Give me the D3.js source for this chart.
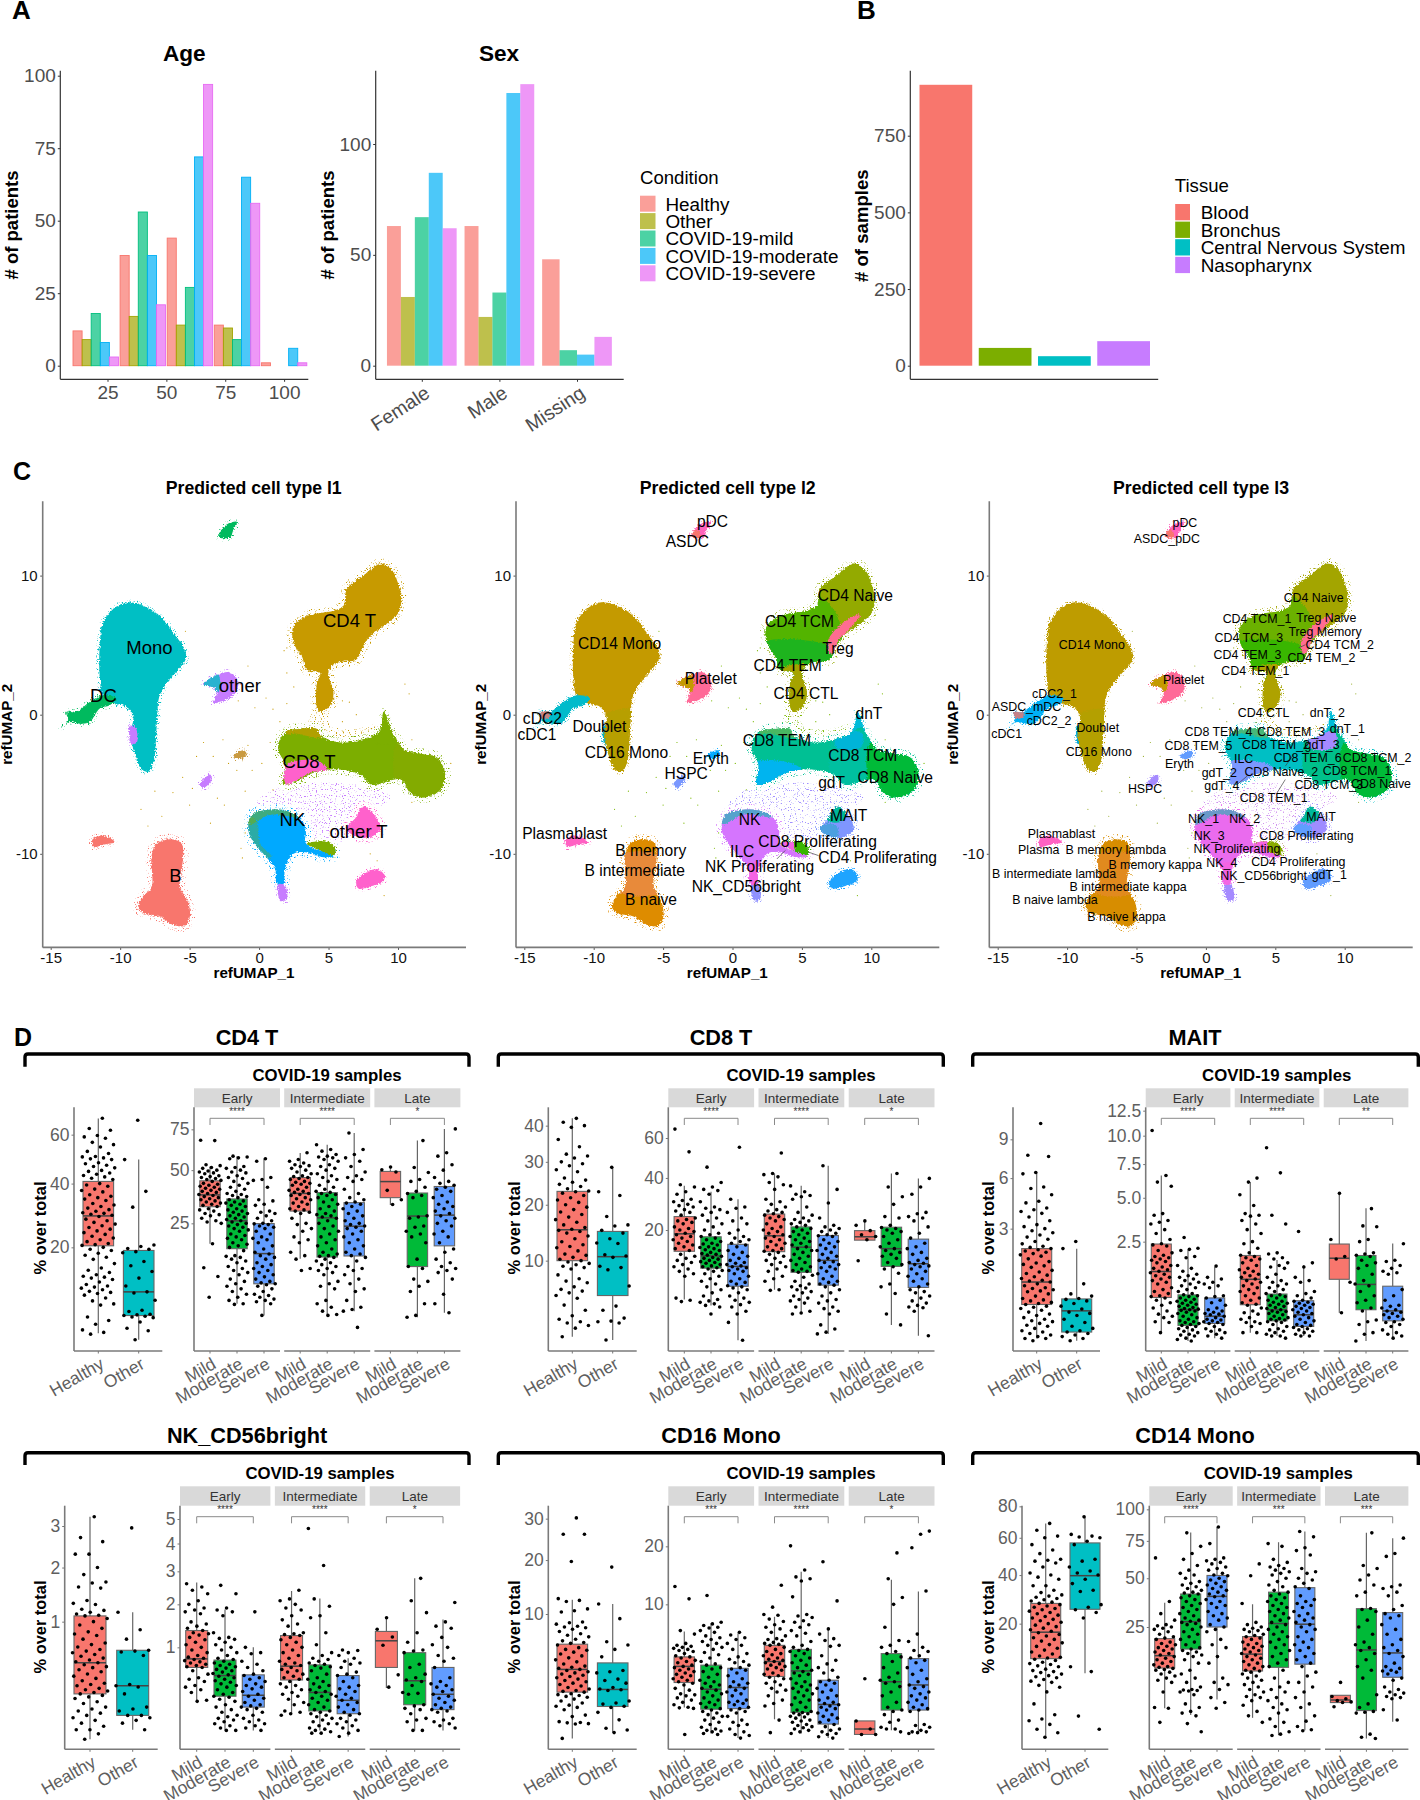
<!DOCTYPE html>
<html><head><meta charset="utf-8">
<script src="https://cdn.jsdelivr.net/npm/d3@7"></script>
<style>html,body{margin:0;padding:0;background:#fff}svg{display:block}text{font-family:"Liberation Sans",Arial,sans-serif}</style>
</head><body><div id="c"></div>
<script>
// ---------- Panel A / B data ----------
const conditions=["Healthy","Other","COVID-19-mild","COVID-19-moderate","COVID-19-severe"];
const conditionColors=["#F8766D","#A3A500","#00BF7D","#00B0F6","#E76BF3"];
const ageBins=[20,40,60,80,100];
const ageHealthy=[12,38,44,14,1];
const ageOther=[9,17,14,13,0];
const ageMild=[18,53,27,9,0];
const ageModerate=[8,38,72,65,6];
const ageSevere=[3,21,97,56,1];
const sexCats=["Female","Male","Missing"];
const sexFemale=[63,31,67,87,62];
const sexMale=[63,22,33,123,127];
const sexMissing=[48,null,7,5,13];
const tissues=["Blood","Bronchus","Central Nervous System","Nasopharynx"];
const tissueValues=[916,58,31,80];
const tissueColors=["#F8766D","#7CAE00","#00BFC4","#C77CFF"];

// ---------- UMAP cluster outlines (refUMAP_1, refUMAP_2) ----------
const monoOutline=[[-9.42,8.08],[-8.1,7.72],[-6.9,6.87],[-6.18,5.9],[-5.34,4.68],[-5.29,3.96],[-5.94,3.1],[-6.66,2.26],[-7.19,1.29],[-7.33,-.17],[-7.43,-1.87],[-7.57,-3.33],[-7.98,-4.1],[-8.46,-3.93],[-8.94,-2.84],[-9.25,-1.38],[-9.06,-.17],[-9.54,.56],[-10.38,.8],[-11.2,1.29],[-11.47,2.74],[-11.47,4.93],[-11.23,6.63],[-10.5,7.6]];
const dcOutline=[[-14.23,-.9],[-13.75,-.41],[-13.87,.19],[-13.15,.19],[-12.2,.92],[-11.2,1.4],[-10.26,1.17],[-10.75,.68],[-11.47,.44],[-12.19,-.53],[-12.9,-.66],[-13.63,-.53]];
const doubletOutline=[[-9.3,-.8],[-8.9,-.9],[-8.8,-2],[-9.2,-2.1],[-9.35,-1.4]];
const cd4Outline=[[8.73,10.87],[9.57,10.39],[10.05,9.3],[10.24,8.33],[10.05,7.35],[8.97,6.38],[8,5.66],[7.4,4.8],[7,3.96],[5.6,3.71],[5,3.1],[5.36,1.53],[5.12,.68],[4.4,.19],[4.16,.56],[4.16,2.26],[4.4,3],[3.44,3.23],[3.08,4.2],[2.48,5.17],[2.48,6.38],[3.44,7.1],[5.36,7.48],[6.08,7.84],[6.32,9.05],[7.52,10.02]];
const cd8Outline=[[2.96,-1.02],[4.16,-1.02],[4.4,-1.5],[5.84,-2],[7.52,-1.75],[8.49,-1.38],[9.2,-.9],[9.8,-1.63],[10.4,-2.48],[11.85,-2.84],[12.8,-3.08],[13.4,-4.3],[13.05,-5.39],[11.85,-5.95],[10.9,-5.63],[10.2,-4.66],[8.1,-5.03],[7.28,-4.3],[5.36,-3.93],[3.92,-4.17],[2.48,-4.9],[1.75,-5.02],[1.87,-3.57],[1.39,-2.6],[1.51,-1.75],[2.1,-1.14]];
const spikeOutline=[[8.97,.25],[9.45,-.9],[9.6,-2],[8.3,-2],[8.8,-.8]];
const nkOutline=[[.55,-6.85],[1.75,-6.85],[2.96,-7.45],[3.37,-8.42],[3.32,-9.15],[3.92,-9.64],[5,-9.76],[5.48,-9.64],[5.36,-10.17],[4.64,-10.24],[3.32,-9.88],[2.48,-10],[1.87,-11.09],[1.75,-12.18],[1.27,-12.18],[1.15,-11.09],[.31,-10],[-.41,-9.15],[-.77,-8.3],[-.53,-7.2]];
const tailOutline=[[3.44,-9.27],[5,-9.15],[5.48,-9.64],[5.43,-10.07],[4.4,-9.76]];
const nkEndOutline=[[1.39,-12.18],[1.87,-12.3],[1.99,-13.3],[1.51,-13.3]];
const otherTOutline=[[7.52,-6.6],[8.49,-7.45],[8.73,-8.2],[8,-8.8],[6.8,-8.67],[6.3,-8.2],[6.92,-7.45]];
const lowerOutline=[[8.49,-11.1],[8.97,-11.46],[8.97,-11.95],[8,-12.35],[7.16,-12.5],[7,-11.95],[7.52,-11.46]];
const bOutline=[[-6.42,-8.96],[-5.58,-9.27],[-5.5,-10.6],[-5.7,-12.3],[-5.1,-13.5],[-4.98,-14.5],[-5.34,-15.17],[-6.18,-15.1],[-7.14,-14.5],[-8.34,-14.25],[-8.7,-13.76],[-8.34,-13.03],[-7.74,-12.43],[-7.74,-10.12],[-7.38,-9.27]];
const plasmaOutline=[[-11.95,-8.9],[-11.2,-8.7],[-10.38,-9.15],[-11.2,-9.34],[-11.95,-9.5]];
const pdcOutline=[[-1.6,13.86],[-1.85,13.3],[-2.1,12.74],[-2.93,12.8],[-2.33,13.67]];
const plateOutline=[[-4,2.2],[-2.9,2.9],[-2.1,3.03],[-1.5,2.26],[-1.85,1.4],[-3.3,.85],[-3.05,1.53],[-3.2,1.9]];
const hspcOutline=[[-3.53,-4.3],[-3.41,-4.66],[-4.01,-5.27],[-4.25,-5.02]];
const erythOutline=[[-1.13,-2.55],[-.89,-2.84],[-1.49,-3.2],[-1.85,-2.96]];
const outlines={mono:monoOutline,dc:dcOutline,doublet:doubletOutline,cd4:cd4Outline,cd8:cd8Outline,spike:spikeOutline,nk:nkOutline,tail:tailOutline,nkEnd:nkEndOutline,otherT:otherTOutline,lower:lowerOutline,b:bOutline,plasma:plasmaOutline,pdc:pdcOutline,plate:plateOutline,hspc:hspcOutline,eryth:erythOutline};
const subRegions={
 monoStem:[[-6.5,.2],[-9.6,-.3],[-9.8,-5],[-6.5,-5]],
 cd4Tcm:[[1.5,8.5],[6.3,8.5],[7.8,6.4],[7.4,3],[1.5,3]],
 cd4Tem:[[2,5.1],[7.4,4.7],[7.4,3],[2,3]],
 cd4Stem:[[3.5,3.25],[6.5,3.25],[6.5,-.5],[3.5,-.5]],
 treg:[[6.85,5.2],[7.4,6.1],[8.5,6.95],[9.2,7.2],[8.4,6.1],[7.6,5.3],[7.4,4.5],[7,4.4]],
 cd8Right:[[10,-2],[14,-2],[14,-7],[10.3,-7],[9.7,-4.5]],
 cd8Mid:[[7.5,-1],[10.5,-1.5],[10.5,-6],[7.5,-6]],
 cd8Blue:[[1.4,-3.5],[4.3,-3.5],[5,-4],[3.5,-4.5],[2,-5.4],[1.4,-5.4]],
 cd8Pink:[[1.99,-5],[1.75,-4.3],[1.99,-3.57],[4.16,-3.3],[4.9,-3.93],[3.68,-4.17],[2.48,-4.85]],
 cd8Top:[[7.5,-1.4],[9.3,-1.3],[9.3,-2.3],[7.5,-2.4]],
 cd8TopL:[[2,-.7],[4.7,-.7],[4.5,-1.6],[2.6,-1.35],[2,-1.4]],
 nkBottom:[[.8,-10.8],[2.4,-10.8],[2.4,-12.4],[.8,-12.4]],
 nkFringe:[[-1,-6.3],[3,-6.3],[3.1,-7.3],[.8,-7.2],[-.6,-7.9],[-1,-7.9]],
 nkLeft:[[-1,-7.4],[-.2,-7.6],[.1,-9.3],[.9,-10.2],[.2,-10.4],[-1,-9]],
 tailStart:[[3.2,-9],[4.3,-9],[4.3,-10.4],[3.2,-10.4]],
 maitTop:[[6.8,-6],[8,-6],[8,-7.6],[6.8,-7.6]],
 maitLow:[[6,-8],[7.5,-8],[7.5,-9],[6,-9]],
 bMid:[[-8.2,-10.2],[-5,-10.2],[-5,-12.7],[-8.2,-12.7]],
 plateLeft:[[-4.2,3],[-3,3],[-2.9,1.7],[-4.2,1.7]],
 pdcLeft:[[-3.2,13.2],[-2.4,13.2],[-2.4,12.4],[-3.2,12.4]],
 dcTip:[[-14,.4],[-13.2,.4],[-13.2,-.2],[-14,-.2]]
};
const hazeBetween=[[1.5,-5.2],[8,-5.2],[9.5,-6],[8,-7],[6.2,-9],[4,-9],[3.5,-7],[1,-6.8],[-.3,-6.5]];
const hazeGap=[[4.1,.9],[5.3,.9],[5,-.6],[6.5,-1.1],[8.7,-.7],[8.7,-1.5],[6,-1.9],[4.2,-1.3],[3.6,-1.1]];
const strayU=[-5.5,-4.5,-4,-3.3,-2.6,-2.2,-1.6,-.8,-.5,-4.8,-3,-2.5,-1,.2,.8,1,-6.2,-7.5,-8.5,-7,-8,-5,-3.5,-1,-1.2,-1.3,.5,1,1.5,2,2.5,2,1.8,2,9,8.5,8,10.5,10.8,6.5,11,13.8,11,-5.3,-.3,-1.5,-.8,6,7,6];
const strayV=[-4.5,-3,-2,-3,-1.8,-3.5,-4,-2.2,-4,-5.3,-6,-6.5,-5.5,-3.5,-2,-5.4,-5.6,-5.5,-6.8,-7.3,-8,-6.5,-7.8,-8.5,-10.3,-9.6,1.2,.4,-.5,.8,2,3,4.6,4.8,-13,-10.5,-10,2.2,1.5,.9,-6.3,-3.5,-1.8,6,.5,1,3.5,-.5,0,1];

const l1Colors={mono:"#00BFC4",dc:"#00BA5E",doublet:"#C77CFF",cd4:"#C79A00",cd8:"#7CAE00",spike:"#7CAE00",nk:"#00A9FF",tail:"#7CAE00",nkEnd:"#C77CFF",otherT:"#FF61CC",lower:"#FF61CC",b:"#F8766D",plasma:"#F8766D",pdc:"#00BA5E",plate:"#C77CFF",hspc:"#C77CFF",eryth:"#C99A40"};
const l1Patches=[["cd8Pink","#FF61CC","cd8",1],["cd8TopL","#C79A00","cd8",.7],["cd8Right","#8AA800","cd8",.5],["nkLeft","#7CAE00","nk",.35],["nkFringe","#7CAE00","nk",.5],["plateLeft","#00BFC4","plate",.8]];
const l2Colors={mono:"#C49A00",dc:"#00BBCB",doublet:"#00AFC8",cd4:"#93AA00",cd8:"#00C094",spike:"#00BBD8",nk:"#D575FE",tail:"#39B600",nkEnd:"#8F91FF",otherT:"#7F96FF",lower:"#1EA4FF",b:"#DE8C00",plasma:"#FF61C3",pdc:"#FF62BC",plate:"#FF6A98",hspc:"#7997FF",eryth:"#00A9FF"};
const l2Patches=[["monoStem","#B79F00","mono",1],["cd4Tcm","#53B400","cd4",1],["cd4Tem","#1EB41E","cd4",1],["cd4Stem","#A5A300","cd4",1],["treg","#FF6C91","cd4",1],["cd8Mid","#00BFA0","cd8",1],["cd8Right","#00BA38","cd8",1],["cd8Blue","#00B4EF","cd8",1],["cd8Top","#00B4D8","cd8",1],["cd8TopL","#8FB030","cd8",.5],["nkBottom","#F564E3","nk",1],["nkFringe","#00BFAA","nk",.6],["tailStart","#F564E3","tail",1],["maitTop","#00B89A","otherT",1],["maitLow","#4CA0E0","otherT",1],["bMid","#E88A3A","b",1],["plateLeft","#C49A00","plate",1],["pdcLeft","#F8766D","pdc",1],["dcTip","#F8766D","dc",.8]];
const l3Colors={mono:"#BE9C00",dc:"#00B0F6",doublet:"#00A8D8",cd4:"#A3A500",cd8:"#00BFC4",spike:"#00BCD8",nk:"#EA6BEE",tail:"#8AAB00",nkEnd:"#A58AFF",otherT:"#9F8CFF",lower:"#619CFF",b:"#D78D00",plasma:"#FF61C3",pdc:"#FF62BC",plate:"#FF6A98",hspc:"#A58AFF",eryth:"#619CFF"};
const l3Patches=[["monoStem","#B4A000","mono",1],["cd4Tcm","#6BB100","cd4",1],["cd4Tem","#39B600","cd4",1],["cd4Stem","#AEA200","cd4",1],["treg","#FF6C91","cd4",1],["cd8Mid","#00C08B","cd8",1],["cd8Right","#00BA38","cd8",1],["cd8Blue","#7C98FF","cd8",1],["cd8Top","#A58AFF","cd8",1],["cd8TopL","#8FB030","cd8",.5],["nkBottom","#F564E3","nk",1],["nkFringe","#00BFAA","nk",.55],["tailStart","#F564E3","tail",1],["maitTop","#00B89A","otherT",1],["maitLow","#5F9EFF","otherT",1],["bMid","#E18A1E","b",1],["plateLeft","#C49A00","plate",1],["pdcLeft","#F8766D","pdc",1],["dcTip","#F8766D","dc",.8]];

const l1Labels=[["CD4 T",6.51,6.8],["Mono",-7.89,4.85],["DC",-11.2,1.36],["other",-1.39,2.13],["CD8 T",3.6,-3.4],["NK",2.4,-7.5],["other T",7.16,-8.42],["B",-6.03,-11.55]];
const l2Labels=[["pDC",-1.44,13.9],["ASDC",-3.25,12.45],["CD4 Naive",8.85,8.57],["CD4 TCM",4.83,6.72],["Treg",7.6,4.76],["CD4 TEM",3.97,3.52],["Platelet",-1.56,2.6],["CD4 CTL",5.29,1.53],["CD14 Mono",-8.13,5.1],["dnT",9.83,.1],["cDC2",-13.7,-.27],["cDC1",-14.09,-1.43],["Doublet",-9.59,-.83],["CD8 TEM",3.2,-1.87],["CD16 Mono",-7.64,-2.74],["Eryth",-1.56,-3.16],["CD8 TCM",9.38,-2.96],["HSPC",-3.34,-4.25],["gdT",7.14,-4.85],["CD8 Naive",11.73,-4.51],["MAIT",8.37,-7.26],["NK",1.23,-7.57],["Plasmablast",-12.09,-8.54],["CD8 Proliferating",6.13,-9.15],["B memory",-5.89,-9.73],["ILC",.7,-9.83],["CD4 Proliferating",10.46,-10.27],["NK Proliferating",1.95,-10.92],["B intermediate",-7.04,-11.17],["NK_CD56bright",.99,-12.38],["B naive",-5.87,-13.28]];
const l3Labels=[["pDC",-1.51,13.83],["ASDC_pDC",-2.81,12.62],["CD4 Naive",7.76,8.4],["CD4 TCM_1",3.68,6.89],["Treg Naive",8.68,7.01],["Treg Memory",8.58,5.95],["CD4 TCM_3",3.1,5.56],["CD4 TCM_2",9.64,5.02],["CD4 TEM_3",3,4.34],["CD4 TEM_2",8.32,4.1],["CD4 TEM_1",3.56,3.16],["Platelet",-1.61,2.5],["CD14 Mono",-8.22,5.02],["cDC2_1",-10.91,1.5],["ASDC_mDC",-12.93,.56],["cDC2_2",-11.3,-.44],["cDC1",-14.35,-1.38],["Doublet",-7.79,-.9],["CD4 CTL",4.16,.17],["dnT_2",8.75,.17],["dnT_1",10.19,-1.02],["CD8 TEM_4",.91,-1.24],["CD8 TEM_3",6.15,-1.21],["CD8 TEM_5",-.53,-2.23],["CD8 TEM_2",5.05,-2.16],["gdT_3",8.37,-2.18],["CD16 Mono",-7.72,-2.65],["ILC",2.72,-3.18],["CD8 TEM_6",7.33,-3.11],["CD8 TCM_2",12.33,-3.11],["Eryth",-1.9,-3.5],["gdT_2",.96,-4.15],["CD8 Naive_2",5.43,-4.1],["CD8 TCM_1",10.89,-4.05],["gdT_4",1.15,-5.07],["CD8 TCM_3",8.85,-5.05],["CD8 Naive",12.62,-4.98],["HSPC",-4.38,-5.32],["CD8 TEM_1",4.88,-5.97],["NK_1",-.17,-7.5],["NK_2",2.79,-7.5],["MAIT",8.29,-7.31],["NK_3",.24,-8.67],["Plasmablast",-10.41,-8.57],["CD8 Proliferating",7.24,-8.69],["NK Proliferating",2.24,-9.64],["Plasma",-12.04,-9.68],["B memory lambda",-6.49,-9.73],["CD4 Proliferating",6.66,-10.56],["NK_4",1.15,-10.61],["B memory kappa",-3.65,-10.8],["B intermediate lambda",-10.94,-11.43],["NK_CD56bright",4.16,-11.58],["gdT_1",8.89,-11.53],["B intermediate kappa",-5.6,-12.35],["B naive lambda",-10.87,-13.3],["B naive kappa",-5.72,-14.54]];
const l2Leaders=[[6.2,-10.13,5.48,-9.88],[3.2,-10.37,3.8,-9.76]];
const l3Leaders=[[5.12,-5.63,5.72,-4.66],[6.69,4.8,7.17,5.03],[2.24,-5.03,2.96,-4.42],[5.72,-3.7,6.33,-2.85]];

// ---------- Panel D data: box stats are [low, q1, median, q3, high] per group ----------
const groupsLeft=["Healthy","Other"];
const groupsCovid=["Mild","Moderate","Severe"];
const facets=["Early","Intermediate","Late"];
const cd4Boxes=[[3.9,20.4,29,40.8,67.5],[3.2,6.2,10.1,19.2,49.3],[17.7,31.9,37.3,44.3,52],[3.5,16.1,26,35.4,57.9],[2,7,14.6,24.9,56.5],[13.1,30,38,46,59.9],[2,13.6,27.2,38.4,65],[2.5,13.9,23.9,33.7,72.6],[32.6,36,43.9,49.3,50.5],[1.8,11,27.9,38.2,67.6],[2.3,17,28.3,41.4,75.3]];
const cd4Dots=[
[67.6,62.8,62,59.6,59,58.4,56.6,55.6,54.6,52.7,51.8,50.6,50.4,50,49.6,49.3,48,47.6,47,46.5,46,45,44.6,44,43.5,43,42.5,42,41.5,40,39.5,39,38,37.5,37,36,35.5,35,34.5,34,33,32.5,32,31.5,31,30.5,30,29.8,29.5,29.2,28.8,28,27.5,27,26.5,26,25.5,25,24.5,24,23.5,23,22.5,22,21.5,21,20.7,20.5,20,19.5,19.2,18.5,18,17.5,17,16,15,14.5,14,13.5,13.2,13,12.8,12.5,12,11.5,11.2,11,10.8,10.5,10.2,10,9.8,9.5,9,8.5,8,7.8,6,5.5,5,4.3,4,3.8],
[66.7,49.3,37.2,31.8,20.6,20.2,19.7,19.5,18.9,18.6,16.5,15.5,14.2,12.8,11.2,10.1,9.9,8.6,7,6.8,6.4,6.3,6.2,6.1,6,5.9,5.3,4.5,4.2,3.2],
[67.8,67.6,53,52.5,51.5,51,50,49.5,49,48.5,48,47,46.5,46,45.5,45,44.5,44,43,42.5,42,41.5,41,40.5,40,39.5,39,38.5,38,37.5,37,36.5,36,35.5,35,34.5,34,33.5,33,32.5,32,31,30.5,30,29,28.5,28,27,26,25.5,25,17.7,10.7,8.6,4.5],
[58,57.5,57,56.5,52,51.5,51,50,49,48.5,47,46,45.5,44,43,42,41,40,39,38,37.5,37,36.5,36,35,34.5,34,33.5,33,32.5,32,31,30.5,30,29.5,29,28.5,28,27.5,27,26.5,26,25.5,25,24.5,24,23.5,23,22.5,22,21,20.5,20,19.5,19,18,17.5,17,16.5,15.5,14,13.8,13.5,13,12.5,12,11,10.5,10,9.5,9,8,7.5,7,6.5,6,5.5,5,4.5,4,3.5,3.4],
[56.5,55,46,45,44.5,41,35,34.5,33,32.5,30,29.5,29,28,27,26,25,24.8,24.5,24,23.5,23,22,21,20,19.5,19,18,17,16,15,14.5,14,13.5,13,12,11.5,11,10.5,10,9.5,9,8.5,8,7.5,7.2,7,6.8,6.5,6,5.5,5,4.8,4.5,4.2,4,3.8,3.5,2],
[60,56,55,54,53,52.5,52,51,50,49,48,47,46.5,46,45.5,45,44,43.5,43,42.5,42,41,40,39.5,39,38.5,38,37.5,37,36,35.5,35,34,33.5,33,32,31,30.5,30,29.5,29,27,25,24.5,23,22,20,19,18,15,14,13,10.5,10],
[65,62,61,59,58,57.5,57,56,55,53,52,51,50,48,47,46,45,44,42,41,40,39,38.5,38,37.5,37,36,35,34,33,32,31,30,29,28.5,28,27.5,27,26,25,24,23,22,21,20,19,18,17,16,15,14.5,14,13.8,13.5,13,12.5,12,11.5,11,10.5,10,9.5,9,7.5,7,6.5,6,4,3.5,3,2.5,2.1,2],
[72.5,62,59,57,55,52,49,47,46,45,44,40,38,36,35,34,33.5,33,32,31,30,29,28,27,26,25,24.5,24,23.5,23,22,21,20,19,18,17,16,15,14.5,14,13.5,12.5,11,10.5,10,9,8,7,6,5.5,4,3,2.7,2.5,.9],
[51.7,50.2,49,39.5,35,32.9],
[67.6,51.5,48.7,45,44,41,39,38,37,36,28,27.5,27,24,23.5,22,21,20,18,13,11,10.5,8,7.5,6.5,5.5,3.5,2,1.8],
[75.3,60,58,53,50,46,44,43,42,41,40,39,37,36,34,33,32,31,30,29,28,27,26,25,24,22,21,20,18,16,15,13,12,11,10.5,10,9.5,8,5,3.5,2.3]];
const cd8Boxes=[[1.9,10,15.1,22.9,42.2],[1.7,5.5,10.6,14.8,28.6],[4,13.8,18.8,24.5,36.6],[3.2,9.7,12.6,17.9,34],[.3,6.1,10.1,15.7,31],[5.5,13.7,18.2,25.4,42],[2.3,8.8,14.9,21,36.6],[.6,6.3,11.5,18.3,45.7],[16.9,16.9,17.9,19.8,23],[1.2,10.1,14.5,20.9,42],[.5,5.9,10.7,17.2,39.8]];
const cd8Dots=[
[42.2,41,40,39.5,36,34,32,31.5,31,30,29.5,29,28,27.5,26,25.5,25,24.5,24,23.5,23,22.8,22.5,22,21.5,21,20.5,20,19.5,19,18.5,18,17.5,17,16.5,16,15.5,15.2,15,14.8,14.5,14,13.5,13,12.5,12.2,12,11.5,11,10.8,10.5,10.2,10,9.8,9.6,9.4,9.2,9,8.8,8,7.5,7.2,7,6.5,6.2,6,5.8,5.5,5.2,4.5,4,3.5,3.2,3,2.9,2.7,2.5,1.9],
[28.6,22.8,22,17.6,16,15.8,15,14.5,13.5,12.8,12.7,10.9,10.7,10.5,9.2,9,8.7,6.6,4.4,4,3.3,3.05,3,2.9,1.7],
[65,52.6,37,36,34,33,31,30.5,30,29,28.5,28,27,26.5,26,25,24,23.5,23,22.5,22,21,20.5,20,19.5,19,18.5,18,17.5,17,16.5,16,15.5,15,14.5,14,13,12.5,12,11.5,11,10.5,10,9.5,9,8.5,8,4.2,3.9,3.7],
[45,38,36,35,34.5,33,30,28,27.5,27,26,25,24,23,22,21,20,19,18.5,18,17.5,17,16.5,16,15.8,15.5,15,14.8,14.5,14.2,14,13.5,13.2,13,12.8,12.5,12.2,12,11.8,11.5,11.2,11,10.8,10.5,10.2,10,9.8,9.5,9.2,9,8.5,8,7.5,7,6.5,6,5.5,5,4.5,4,3.8,3.6,3.4,3.2,3,2.2],
[55,31,28,27.5,26,24,23,22,20,19,18,17.5,17,16.5,16,15.5,15,14,13.5,13,12.5,12,11.5,11,10.8,10.5,10.2,10,9.8,9.5,9.2,9,8.5,8,7.5,7,6.8,6.5,6.2,6,5.8,5.5,5,4.5,4.2,3.9,3.6,3.3,3,2.5,2.2,1.4,.3],
[52,42,41.5,40.5,38,37,35,31,30,29,28,27,26.5,26,25.5,25,24.5,24,23.5,23,22,21,20.5,20,19.5,19,18.5,18,17.5,17,16.5,16,15.5,15,14.5,14,13.8,13.5,13,12.5,12,11.5,11,10.5,10,9.5,9,8,7.5,7,5.5,5.4],
[36.5,34,33,32.5,32,31,28,26,25,24,23.5,23,22.5,22,21.5,21,20.5,20,19.5,19,18.5,18,17.5,17,16.5,16,15.5,15,14.5,14,13.5,13,12.5,12,11.5,11,10.5,10,9.5,9.2,9,8.8,8.2,7.8,7,6.5,6.2,6,5.8,5.5,5.2,5,4.5,4.2,4,3.8,3.5,3,2.5,2.3,2.2],
[45.7,35,29.5,24,21.5,21,20.5,20,19.5,19,18.5,18.2,18,17,16.5,16,15.5,15,14.5,14,13.5,13,12.5,12,11.5,11.2,11,10.5,10,9.8,9.5,9,8.5,8,7.5,7,6.8,6.5,6.3,6,5.5,5,4.5,4,3.8,3.5,3,2.8,2.5,2.2,1.2,.9,.7,.6],
[23,21.5,19.8,18.5,18,17,11.4],
[42,36,32,29,24.5,24,21.5,20.8,20.5,20,19.5,19,18,17,16,15,14.5,14,13.5,13,12.5,12,11,10.5,10,9.5,8.6,6.5,6,4.9,2.2,1.2],
[39.8,36,33,26,25.5,24.5,24,23,21,19,17.5,16,15,14.5,13.5,13,12,11.5,11,10.8,10.5,10.2,10,9.5,9,8.5,8,7.5,7,6.5,6,5.5,5.2,5,4.5,4.2,3.8,3.5,3.2,3,2.9,2.5,.5]];
const maitBoxes=[[.03,.43,.95,2.1,6.4],[.02,.07,.32,.54,2.09],[.05,.56,1.29,2.39,6.6],[.01,.11,.32,.62,2.12],[.02,.13,.22,.55,1.46],[.05,.41,1.04,1.89,6.1],[.03,.16,.32,.64,1.71],[.03,.1,.24,.49,1.52],[.27,1.04,1.78,2.39,5.26],[.01,.32,.89,1.89,4.32],[.02,.16,.3,.84,2.42]];
const maitDots=[
[10.4,7.7,7.6,6.4,6.3,5.4,5.3,4.9,4.5,4.4,4.1,4,3.9,3.8,3.6,3.4,3.2,3.1,3,2.9,2.8,2.7,2.6,2.5,2.4,2.3,2.2,2.15,2.1,2.05,2,1.95,1.9,1.85,1.8,1.7,1.6,1.55,1.5,1.45,1.4,1.3,1.25,1.2,1.15,1.1,1.05,1,.98,.95,.9,.85,.8,.78,.75,.72,.7,.65,.6,.55,.52,.5,.47,.45,.43,.4,.38,.36,.33,.3,.27,.25,.22,.2,.18,.17,.15,.13,.12,.1,.08,.07,.06,.05,.04,.03,.03,.02],
[2.4,2.1,.9,.65,.6,.55,.53,.5,.45,.4,.35,.3,.28,.25,.2,.16,.12,.1,.08,.07,.06,.05,.04,.03,.02],
[10.5,6.6,6.1,5.8,4,3.9,3.6,3.5,3.4,3.1,2.9,2.6,2.4,2.35,2.3,2.1,2,1.9,1.85,1.8,1.75,1.7,1.65,1.6,1.5,1.45,1.4,1.35,1.3,1.25,1.2,1.15,1.1,1.05,1,.95,.9,.8,.75,.7,.65,.6,.58,.55,.5,.45,.4,.35,.3,.25,.22,.2,.15,.14,.05],
[2.7,2.2,2.15,2.1,1.85,1.8,1.5,1.4,1.3,1.2,1.15,1.1,1.05,1,.95,.9,.85,.8,.75,.7,.65,.62,.6,.58,.55,.52,.5,.48,.46,.44,.42,.4,.38,.36,.34,.33,.32,.31,.3,.28,.26,.24,.22,.2,.18,.16,.15,.14,.13,.12,.11,.1,.09,.08,.07,.06,.05,.04,.035,.03,.02,.015,.01],
[1.48,1.1,1.05,.95,.9,.85,.8,.6,.58,.55,.5,.45,.4,.35,.32,.3,.28,.26,.25,.24,.22,.2,.18,.17,.16,.15,.14,.13,.12,.1,.08,.07,.06,.05,.04,.03,.02],
[6.4,6.1,5.2,4.5,4,3.9,3.85,3.6,3.4,3.1,2.9,2.5,2.4,2.2,2,1.9,1.85,1.8,1.75,1.7,1.6,1.5,1.4,1.35,1.3,1.25,1.2,1.15,1.1,1.05,1,.95,.9,.85,.8,.75,.7,.65,.6,.55,.5,.45,.42,.4,.35,.3,.27,.25,.2,.18,.15,.14,.13,.1,.05,.05],
[8.9,6.8,3.9,3.4,2,1.95,1.8,1.75,1.6,1.5,1.45,1.4,1.2,1.1,1,.95,.9,.85,.8,.75,.7,.65,.62,.6,.58,.55,.5,.48,.46,.44,.42,.4,.38,.36,.34,.32,.3,.29,.28,.26,.24,.22,.2,.19,.18,.17,.16,.15,.14,.12,.1,.08,.07,.06,.05,.04,.03,.03,.02],
[3,1.6,1.45,1.1,1,.95,.7,.65,.6,.55,.5,.48,.46,.44,.42,.4,.38,.36,.34,.32,.3,.28,.26,.24,.22,.2,.18,.16,.14,.12,.11,.1,.09,.08,.07,.06,.05,.04,.03,.03],
[5.3,2.6,1.85,1.75,.95,.27],
[4.3,3.3,3.25,2.6,2.5,2,1.95,1.9,1.85,1.7,1.6,1.5,1.4,1.2,1,.9,.85,.7,.6,.5,.45,.35,.3,.17,.15,.12,.05,.04,.01],
[2.4,1.7,1.65,1.5,1.4,1.3,1.25,1.2,.75,.6,.5,.4,.38,.35,.32,.3,.28,.26,.24,.22,.2,.18,.15,.14,.12,.1,.07,.05,.04,.03,.02]];
const nkBoxes=[[.01,.2,.47,1.09,3.25],[.03,.08,.26,.61,1.15],[.23,.65,.79,1.35,2.64],[.04,.28,.53,.77,1.86],[.04,.18,.29,.54,1],[.13,.47,.67,1.24,2.38],[.04,.15,.32,.69,2.16],[.02,.13,.24,.53,.8],[.37,.65,1.13,1.33,1.64],[.04,.2,.46,.9,2.77],[.04,.16,.3,.65,1.61]];
const nkDots=[
[3.25,2.7,2.6,2.3,2.3,2,1.85,1.7,1.68,1.6,1.58,1.35,1.3,1.28,1.2,1.18,1.15,1.12,1.1,1.09,1.05,1,.95,.9,.85,.82,.8,.75,.7,.68,.65,.62,.6,.58,.56,.54,.52,.5,.48,.47,.45,.43,.42,.4,.38,.36,.34,.32,.3,.28,.27,.26,.24,.23,.22,.21,.2,.19,.18,.17,.15,.14,.12,.11,.1,.09,.08,.07,.06,.05,.04,.03,.03,.02,.01],
[2.95,1.15,.88,.75,.61,.6,.59,.55,.27,.26,.25,.2,.12,.11,.1,.08,.08,.07,.06,.05,.03],
[2.6,2.5,2.4,2.3,2.1,2,1.9,1.85,1.8,1.75,1.55,1.5,1.45,1.4,1.35,1.3,1.28,1.25,1.2,1.15,1.1,1.05,1,.95,.9,.85,.82,.8,.78,.76,.74,.72,.7,.68,.66,.65,.6,.55,.5,.48,.45,.4,.38,.35,.32,.24,.23],
[2.55,2.3,1.9,1.85,1.8,1.7,1.3,1.2,1.18,1.16,1.1,1.05,1,.95,.9,.85,.8,.78,.75,.72,.7,.68,.66,.64,.62,.6,.58,.56,.54,.52,.5,.48,.46,.44,.42,.4,.38,.35,.32,.3,.28,.27,.25,.23,.2,.18,.16,.14,.12,.11,.1,.09,.08,.07,.06,.05,.04,.04],
[1.8,1,.9,.88,.75,.7,.65,.6,.55,.53,.5,.48,.45,.42,.4,.38,.36,.33,.3,.28,.26,.24,.22,.2,.19,.18,.17,.16,.14,.12,.1,.09,.08,.07,.06,.05,.04],
[2.4,2.15,2.1,2,1.9,1.85,1.7,1.6,1.5,1.45,1.3,1.28,1.26,1.24,1.2,1.15,1.1,1.05,1,.95,.9,.85,.8,.75,.72,.7,.68,.65,.62,.6,.58,.55,.52,.5,.48,.45,.42,.4,.38,.35,.32,.3,.28,.25,.22,.2,.15,.14,.13,.12],
[4.6,3.2,2.15,1.95,1.7,1.65,1.3,1.05,.9,.85,.8,.78,.75,.72,.7,.68,.66,.64,.6,.55,.5,.48,.45,.42,.4,.38,.35,.33,.32,.3,.28,.26,.24,.22,.2,.18,.16,.15,.14,.13,.12,.11,.1,.09,.08,.07,.06,.05,.045,.04,.035,.03,.03],
[.95,.94,.9,.85,.8,.75,.72,.7,.65,.58,.55,.53,.5,.45,.4,.38,.36,.33,.3,.28,.26,.24,.22,.2,.18,.16,.14,.13,.12,.1,.09,.08,.07,.06,.05,.04,.03,.02],
[1.65,1.38,1.21,1.04,.54,.38],
[2.77,2.1,1.78,1.3,1.1,.95,.93,.9,.7,.65,.55,.5,.47,.45,.4,.32,.31,.3,.2,.19,.17,.16,.13,.1,.09,.08,.04,.04],
[2.05,1.55,1.45,1.4,1.2,1.05,1,.85,.8,.75,.65,.5,.45,.42,.4,.38,.35,.33,.3,.28,.26,.24,.22,.2,.18,.17,.16,.15,.14,.1,.09,.08,.07,.06,.05]];
const cd16Boxes=[[.02,1.6,3.3,5.9,12.3],[.08,.84,1.77,3.9,11.6],[.69,1.95,3.1,3.9,6.5],[.06,.63,1.55,3.2,7.5],[.02,.65,1.65,2.95,6.3],[.32,2.35,3.5,5,8.3],[.06,.52,2.75,4.6,15.2],[.02,.21,.81,2.1,6.7],[.05,.05,.12,.28,.28],[.1,.6,2,4.2,13.8],[.08,.6,1.8,3.75,11.9]];
const cd16Dots=[
[30.2,26,26,19.7,12.5,12.2,12,10.8,10.5,10.3,8.8,8.7,8.5,8.2,8.1,8,7.8,7.5,7.2,7,6.8,6.5,6.3,6.1,6,5.8,5.5,5.3,5.2,5,4.8,4.6,4.4,4.2,4,3.8,3.6,3.5,3.4,3.3,3.2,3.1,3,2.9,2.8,2.7,2.6,2.5,2.4,2.3,2.2,2.1,2,1.9,1.8,1.7,1.65,1.6,1.5,1.45,1.4,1.35,1.3,1.2,1.1,1,.9,.85,.8,.7,.5,.45,.3,.28,.27,.25,.24,.02],
[18.5,11.6,9.3,6.2,5.8,5.3,4.5,3.2,3.1,3,2.5,2.4,2.2,1.9,1.8,1.75,1.7,1.1,1,.95,.85,.8,.6,.35,.15,.12,.08],
[12.7,10.8,6.6,6.2,5.2,5,4.9,4.8,4.7,4.6,4.5,4.4,4.2,4,3.9,3.8,3.6,3.5,3.4,3.2,3.1,3,2.9,2.8,2.7,2.6,2.5,2.4,2.3,2.2,2.1,2,1.9,1.8,1.6,1.5,1.3,1.25,1.2,1.1,1,.9,.8,.7,.68,.66,.05],
[11.3,7.6,7.4,7.2,7,6.9,6.6,6.4,6,5.8,5.6,5.4,5.2,5,4.8,4.6,4.3,4.1,3.8,3.5,3.3,3.2,3,2.9,2.7,2.5,2.3,2.1,2,1.9,1.8,1.7,1.6,1.5,1.4,1.3,1.2,1.1,1,.9,.85,.8,.7,.65,.6,.55,.5,.45,.4,.35,.3,.25,.2,.15,.12,.1,.09,.08,.06,.05],
[6.4,6.1,5.8,5.6,5.2,5,4.6,4.2,3.9,3.7,3.5,3.4,3.2,3,2.9,2.8,2.6,2.4,2.2,2,1.9,1.8,1.7,1.6,1.5,1.4,1.3,1.2,1,.95,.9,.85,.8,.7,.65,.6,.55,.5,.4,.3,.25,.2,.18,.12,.08,.05,.04,.02],
[12.9,9.6,8.6,8.5,8,7.7,7.3,7,6.8,6.4,6,5.7,5.6,5.5,5.3,5.2,5.1,5,4.8,4.6,4.4,4.2,4.1,4,3.8,3.7,3.6,3.5,3.4,3.3,3.2,3.1,3,2.9,2.8,2.6,2.5,2.4,2.3,2.2,2,1.9,1.8,1.6,1.5,1.4,1.2,1,.85,.75,.3,.07],
[20.1,15.5,14.3,14,13.6,11.1,8.6,8.4,8.2,7.8,7.6,7.3,7,6.6,6.3,6,5.4,5,4.8,4.6,4.5,4.4,4.2,4,3.8,3.6,3.4,3.2,3,2.8,2.7,2.6,2.5,2.4,2.2,2,1.9,1.8,1.7,1.6,1.5,1.4,1.3,1.2,1.1,1,.9,.8,.7,.6,.55,.52,.5,.48,.45,.4,.38,.35,.3,.28,.25,.2,.18,.16,.14,.12,.1,.08,.06],
[17,10.5,6.8,6.2,5.7,5.5,5,4.9,4,3.6,3.3,3,2.8,2.6,2.3,2.1,2,1.9,1.8,1.6,1.5,1.4,1.2,1.1,1,.9,.85,.8,.75,.7,.65,.6,.5,.45,.4,.35,.3,.25,.2,.16,.12,.1,.08,.06,.05,.03,.02],
[2.2,.28,.12,.05,.05],
[18.7,14,11,10,7,5.5,5,4.8,4.4,4.2,3.9,3.5,3,2.6,2.3,2.1,2,1.9,1.7,1.4,1.2,.9,.7,.6,.55,.45,.3,.25,.15,.12,.12,.08],
[23.2,22.5,19.7,12,6.2,5.4,4.8,4.5,4.4,4,3.8,3.6,3.4,3,2.8,2.5,2.2,2,1.8,1.7,1.6,1.4,1.3,1.2,1.1,1,.9,.8,.7,.65,.6,.55,.2,.18,.15,.1,.08,.08,.07,.06]];
const cd14Boxes=[[.01,9.85,17.2,27.5,68.8],[6.65,25.2,39.7,57,72.7],[2.4,10.6,14.3,20.3,36.4],[1.6,16.5,27.3,41,81.3],[3.7,25,39.7,51.7,85.5],[1.3,9.8,14.8,21.1,35.6],[.16,10.8,26.5,42,74],[.38,11.7,26.2,44.5,82],[3.2,3.2,3.6,4.4,4.4],[.07,2.1,16.2,33.4,81],[.95,8.2,15.2,31.5,77]];
const cd14Dots=[
[68.8,64.5,61,60,56,53,51,48,47.5,47,46,44,41,40,39,38,35,35,33,32,31,30.5,30,29.5,29,28.5,28,27.5,27,26.5,26,25.5,25,24.5,24,23.5,23,22.5,22,21.5,21,20.5,20,19.5,19,18.5,18,17.5,17,16.5,16,15.5,15,14.5,14,13.5,13,12.5,12,11.5,11,10.5,10.2,10,9.7,9.4,9,8.7,8.5,8.2,8,7.5,7.2,7,6.8,6.5,6.2,6,5.8,5.5,5.2,5,4.5,4.2,3.5,2,1,.7,.6,.4,.2,.1,.02],
[73,62,61,60.5,60,58,56,48,47,44,42,41,40,38,36,33,32.5,27,26,25,24,22,8,7,.9,.2],
[63,37,31,28,26,25.5,25,24.5,24,23,22,21,20.5,20,19,18.5,18,17.5,17,16.5,16,15.5,15,14.5,14,13.5,13,12.5,12,11.5,11,10.8,10.5,10.2,10,9.5,9,8.5,8,7.5,7,5,2.5,2.4,.9],
[81,71,66,62,58,55,53,52,50,48,47,46,45,44,43,42,41.5,41,40,39,38,37,36,35,34,33,32,31,30,29,28,27.5,27,26.5,26,25,24,23,22,21,20,19,18,17,16.5,16,15.5,15,14.5,14,13,12,10,9,8,7,6,5.5,5.4,5.3,5.2,5,4.5,3,2.5,2,1.8,1.5,.8,.3],
[85.5,73,63,62,61,60,59,57,56,55,53,52,51.5,50,49,48,47,46,45,44,43,42,41,40,39.5,38,37,36,35,34,32,31,30,29,28,26,25,24,23,20,18,17,14,12,8,7,6.5,5.5,4,3.2,2.4],
[59,51.5,36,27,26,25,24.5,24,23.5,23,22,21.5,21,20.5,20,19,18.5,18,17.5,17,16.5,16,15.5,15,14.5,14,13.5,13,12.5,12,11.5,11,10.5,10,9.8,9.5,9,8.5,8,7.5,7,6.5,6,5.5,5,4.5,4.2,4,3.5,2.8,2,1.5,.9],
[73,71,62,60,58,57,56,55,54,53,52,50,48,46,45,43,42,41,40,39,38,37,36,35,34,33,32,31,30,29,28,27,26,25,24,23,22,21,20,19,18,17,16,15,14,13,12,11,10,8,7,6,5.5,5,4,3.5,3,2.5,2.2,1.8,1.2,.9,.6,.3,.2,.15],
[82,78,70,68,65,56,54,53,50,49,47,45,44,40,38,37,36,35,34,32,31,30,29,28,27,26,25,24,23,21,20,19,18,17,16,15,14,13,12,11,9.5,8.5,7,6,5,4,3,2.5,1.5,1,.6,.4,.35],
[7,4.2,3.8,3.5,3.3,3.2,2.6],
[81,58,56,52,49,46,42,40,33.5,33,32,28,25,22,19,18,17,16,15,13,11,10,8,4.5,3,2.5,2,1.9,1.8,.2,.1,.07],
[77,66,64,46,45,44,42,40,35,33,31,30,29,26,24,22,20,18,17,16,15,14,12,11,10.5,10,9.8,9.5,9,8,7.5,6,5.5,5,4.8,4.5,4.2,4,3.8,2.2,1.1]];
const boxFillsLeft=["#F8766D","#00BFC4"];
const boxFillsCovid=["#F8766D","#00BA38","#619CFF"];

// ---------- layout (pixels of the page) ----------
const svg=d3.select("#c").append("svg").attr("width",1420).attr("height",1800);
const GREY="#4D4D4D", AX="#7a7a7a";
function txt(g,x,y,s,o={}){
  return g.append("text").text(s)
    .attr("transform",`translate(${x},${y}) rotate(${o.rot||0})`)
    .attr("font-size",o.size||14).attr("font-weight",o.weight||"normal")
    .attr("text-anchor",o.anchor||"middle").attr("fill",o.fill||"#000")
    .attr("dy",o.dy===undefined?".35em":o.dy);
}
function ln(g,x1,y1,x2,y2,c,w){return g.append("line").attr("x1",x1).attr("y1",y1).attr("x2",x2).attr("y2",y2).attr("stroke",c).attr("stroke-width",w)}
const defs=svg.append("defs");
const rough=defs.append("filter").attr("id","rough").attr("x","-10%").attr("y","-10%").attr("width","120%").attr("height","120%").attr("color-interpolation-filters","sRGB");
rough.append("feTurbulence").attr("type","fractalNoise").attr("baseFrequency",.7).attr("numOctaves",2).attr("seed",3).attr("result","n");
rough.append("feDisplacementMap").attr("in","SourceGraphic").attr("in2","n").attr("scale",4).attr("xChannelSelector","R").attr("yChannelSelector","G");
const speck=defs.append("filter").attr("id","speck").attr("filterUnits","userSpaceOnUse").attr("x",0).attr("y",480).attr("width",1420).attr("height",490).attr("color-interpolation-filters","sRGB");
speck.append("feTurbulence").attr("type","fractalNoise").attr("baseFrequency",.85).attr("numOctaves",1).attr("seed",8).attr("result","n");
speck.append("feColorMatrix").attr("in","n").attr("type","matrix").attr("values","0 0 0 0 0 0 0 0 0 0 0 0 0 0 0 9 0 0 0 -5.4").attr("result","a");
speck.append("feComposite").attr("in","SourceGraphic").attr("in2","a").attr("operator","in");

// ---------- panel letters ----------
txt(svg,12,19,"A",{size:26,weight:"bold",anchor:"start",dy:0});
txt(svg,857,19,"B",{size:26,weight:"bold",anchor:"start",dy:0});
txt(svg,13,479.5,"C",{size:25,weight:"bold",anchor:"start",dy:0});
txt(svg,14,1046,"D",{size:25,weight:"bold",anchor:"start",dy:0});

// ---------- Panel A ----------
function styleYTicks(ax){ax.select(".domain").remove(); ax.selectAll("line").attr("stroke","#333");
  ax.selectAll("text").attr("font-size",19).attr("fill",GREY).attr("font-family",null)}
(function(){
  const g=svg.append("g");
  const x=d3.scaleLinear().domain([25,100]).range([107.5,284.1]);
  const y=d3.scaleLinear().domain([0,100]).range([365.7,75.7]);
  const series=[ageHealthy,ageOther,ageMild,ageModerate,ageSevere];
  const bw=19.3, inner=d3.scaleBand().domain(d3.range(5)).range([-bw/2,bw/2]);
  series.forEach((arr,c)=>{
    g.selectAll(null).data(arr).join("rect")
     .attr("x",(d,i)=>x(ageBins[i]+inner(c))).attr("width",x(25+inner.bandwidth())-x(25))
     .attr("y",d=>y(d)).attr("height",d=>y(0)-y(d))
     .attr("fill",conditionColors[c]).attr("fill-opacity",.7).attr("stroke",conditionColors[c]).attr("stroke-width",.9);
  });
  const ax=g.append("g").attr("transform","translate(60.3,0)").call(d3.axisLeft(y).tickValues([0,25,50,75,100]).tickSize(2.5).tickPadding(2));
  styleYTicks(ax);
  ln(g,60.3,70.7,60.3,379.3,"#333",1.2); ln(g,60.3,379.3,308.3,379.3,"#333",1.2);
  const bx=g.append("g").attr("transform","translate(0,379.3)").call(d3.axisBottom(x).tickValues([25,50,75,100]).tickSize(2.5));
  bx.select(".domain").remove(); bx.selectAll("line").attr("stroke","#333");
  bx.selectAll("text").attr("y",null).attr("dy",null).attr("font-family",null).attr("transform","translate(0,19.4)").attr("font-size",19).attr("fill",GREY);
  txt(g,184.3,53,"Age",{size:22.6,weight:"bold"});
  txt(g,12,225,"# of patients",{size:18.5,weight:"bold",rot:-90});
  // Sex
  const xs=d3.scalePoint().domain(sexCats).range([421.8,577]);
  const ys=d3.scaleLinear().domain([0,100]).range([365.7,144]);
  const gw=69.7;
  [sexFemale,sexMale,sexMissing].forEach((vals,gi)=>{
    const idx=d3.range(5).filter(i=>vals[i]!==null);
    const b=d3.scaleBand().domain(idx).range([xs(sexCats[gi])-gw/2,xs(sexCats[gi])+gw/2]);
    idx.forEach(i=>{
      g.append("rect").attr("x",b(i)).attr("width",b.bandwidth()).attr("y",ys(vals[i])).attr("height",ys(0)-ys(vals[i]))
       .attr("fill",conditionColors[i]).attr("fill-opacity",.7);
    });
  });
  const ay=g.append("g").attr("transform","translate(375.7,0)").call(d3.axisLeft(ys).tickValues([0,50,100]).tickSize(2.5).tickPadding(2));
  styleYTicks(ay);
  ln(g,375.7,70.7,375.7,379.3,"#333",1.2); ln(g,375.7,379.3,623.7,379.3,"#333",1.2);
  const ax2=g.append("g").attr("transform","translate(0,379.3)").call(d3.axisBottom(xs).tickSize(2.5));
  ax2.select(".domain").remove(); ax2.selectAll("line").attr("stroke","#333");
  ax2.selectAll("text").attr("y",null).attr("dy",null).attr("font-family",null).attr("transform","translate(1,5) rotate(-33)").attr("text-anchor","end").attr("dominant-baseline","hanging").attr("font-size",19.5).attr("fill",GREY);
  txt(g,499,53,"Sex",{size:22.6,weight:"bold"});
  txt(g,327.5,225,"# of patients",{size:18.5,weight:"bold",rot:-90});
  // legend
  txt(g,640,177,"Condition",{size:18.6,anchor:"start"});
  conditions.forEach((c,i)=>{
    const top=195.7+i*17.4;
    g.append("rect").attr("x",640).attr("y",top).attr("width",15.5).attr("height",16).attr("fill",conditionColors[i]).attr("fill-opacity",.7);
    txt(g,665.4,top+8.3,c,{size:18.9,anchor:"start"});
  });
})();

// ---------- Panel B ----------
(function(){
  const g=svg.append("g");
  const x=d3.scaleBand().domain(tissues).range([919.5,1150]).paddingInner(.11);
  const y=d3.scaleLinear().domain([0,750]).range([365.7,135.7]);
  g.selectAll(null).data(tissueValues).join("rect").attr("x",(d,i)=>x(tissues[i])).attr("width",x.bandwidth())
    .attr("y",d=>y(d)).attr("height",d=>y(0)-y(d)).attr("fill",(d,i)=>tissueColors[i]);
  const ay=g.append("g").attr("transform","translate(910.3,0)").call(d3.axisLeft(y).tickValues([0,250,500,750]).tickSize(2.5).tickPadding(2));
  styleYTicks(ay);
  ln(g,910.3,70.7,910.3,379.3,"#333",1.2); ln(g,910.3,379.3,1158.2,379.3,"#333",1.2);
  txt(g,861.5,225.7,"# of samples",{size:18.6,weight:"bold",rot:-90});
  txt(g,1174.8,185.7,"Tissue",{size:18.6,anchor:"start"});
  tissues.forEach((t,i)=>{
    const top=204+i*17.6;
    g.append("rect").attr("x",1175.2).attr("y",top).attr("width",14.8).attr("height",16.3).attr("fill",tissueColors[i]);
    txt(g,1200.7,top+8.5,t,{size:18.9,anchor:"start"});
  });
})();

// ---------- Panel C ----------
const umapPanels=[
 {id:"u1",title:"Predicted cell type l1",x15:50.7,x10:398,left:42.7,right:466,tx:253.7,ylab:7,xl:254,colors:l1Colors,patches:l1Patches,labels:l1Labels,size:18.5,haze:"#C77CFF",gap:"#C79A00",stray:"#C79A00",lead:[]},
 {id:"u2",title:"Predicted cell type l2",x15:524.3,x10:871.3,left:516,right:939.3,tx:727.7,ylab:480.7,xl:727.3,colors:l2Colors,patches:l2Patches,labels:l2Labels,size:15.6,haze:"#A08FFF",gap:"#7AB800",stray:"#7AB800",lead:l2Leaders},
 {id:"u3",title:"Predicted cell type l3",x15:997.7,x10:1344.7,left:989.3,right:1412.7,tx:1201,ylab:953,xl:1200.7,colors:l3Colors,patches:l3Patches,labels:l3Labels,size:12.4,haze:"#D090F0",gap:"#AEA200",stray:"#9AAF30",lead:l3Leaders}
];
umapPanels.forEach(p=>{
  const g=svg.append("g");
  const x=d3.scaleLinear().domain([-15,10]).range([p.x15,p.x10]);
  const y=d3.scaleLinear().domain([10,-10]).range([575.6,853.8]);
  const line=d3.line().x(d=>x(d[0])).y(d=>y(d[1])).curve(d3.curveCatmullRomClosed.alpha(.5));
  Object.keys(outlines).forEach(k=>{
    defs.append("clipPath").attr("id",p.id+"c"+k).append("path").attr("d",line(outlines[k]));
  });
  const halo=g.append("g").attr("filter","url(#speck)");
  halo.append("path").attr("d",line(hazeBetween)).attr("fill",p.haze);
  halo.append("path").attr("d",line(hazeGap)).attr("fill",p.gap);
  Object.keys(outlines).forEach(k=>{
    halo.append("path").attr("d",line(outlines[k])).attr("fill","none").attr("stroke",p.colors[k]).attr("stroke-width",["cd4","cd8","nk","otherT","b"].includes(k)?11:6);
  });
  g.selectAll(null).data(strayU).join("circle").attr("cx",d=>x(d)).attr("cy",(d,i)=>y(strayV[i])).attr("r",.6).attr("fill",p.stray);
  const body=g.append("g").attr("filter","url(#rough)");
  Object.keys(outlines).forEach(k=>{
    body.append("path").attr("d",line(outlines[k])).attr("fill",p.colors[k]);
  });
  p.patches.forEach(([name,col,clip,op])=>{
    body.append("g").attr("clip-path",`url(#${p.id}c${clip})`).append("path").attr("d",line(subRegions[name])).attr("fill",col).attr("fill-opacity",op);
  });
  const ax=g.append("g").attr("transform","translate(0,947.4)").call(d3.axisBottom(x).tickValues([-15,-10,-5,0,5,10]).tickSize(2.5).tickPadding(2.5).tickFormat(d=>d3.format("d")(d).replace("−","-")));
  ax.select(".domain").remove(); ax.selectAll("line").attr("stroke","#555");
  ax.selectAll("text").attr("font-size",15).attr("fill","#111").attr("font-family",null);
  const ay=g.append("g").attr("transform",`translate(${p.left},0)`).call(d3.axisLeft(y).tickValues([-10,0,10]).tickSize(2.5).tickPadding(2.5).tickFormat(d=>d3.format("d")(d).replace("−","-")));
  ay.select(".domain").remove(); ay.selectAll("line").attr("stroke","#555");
  ay.selectAll("text").attr("font-size",15).attr("fill","#111").attr("font-family",null);
  ln(g,p.left,501.2,p.left,947.4,AX,1.6); ln(g,p.left,947.4,p.right,947.4,AX,1.6);
  p.lead.forEach(d=>ln(g,x(d[0]),y(d[1]),x(d[2]),y(d[3]),"#444",.7));
  g.selectAll(null).data(p.labels).join("text").text(d=>d[0]).attr("x",d=>x(d[1])).attr("y",d=>y(d[2])).attr("dy",".35em").attr("text-anchor","middle").attr("font-size",p.size).attr("fill","#000");
  txt(g,p.tx,487.7,p.title,{size:17.7,weight:"bold"});
  txt(g,p.xl,973,"refUMAP_1",{size:15.2,weight:"bold"});
  txt(g,p.ylab,724.3,"refUMAP_2",{size:15.2,weight:"bold",rot:-90});
});

// ---------- Panel D ----------
const rows=[
 {title:1037,bt:1054,bb:1066.7,cov:1075,st:1088.3,sb:1107.3,ax:1351,sig:1118.3,drop:1125,star:1110,base:1010,yl:1228},
 {title:1435,bt:1452.7,bb:1465,cov:1473,st:1486.3,sb:1505.7,ax:1749.3,sig:1516.7,drop:1523.3,star:1508.3,base:1410,yl:1627}
];
const dPanels=[
 {title:"CD4 T",row:0,boxes:cd4Boxes,dots:cd4Dots,tx:247,b1:25,b2:469,cx:327,yl:40,l:74,r:162.3,hx:98.3,ox:138.7,lh:15.3,fa:194,fw:86,foff:90.2,rt:[16,43,70],rh:10.2,stars:["****","****","*"],lT:[20,60,712,374],rT:[25,75,640,358],lTicks:[20,40,60],lLab:["20","40","60"],rTicks:[25,50,75],rLab:["25","50","75"]},
 {title:"CD8 T",row:0,boxes:cd8Boxes,dots:cd8Dots,tx:721,b1:498.3,b2:943.3,cx:801,yl:514,l:548.3,r:636.7,hx:572.3,ox:612.7,lh:15.3,fa:668.3,fw:85.8,foff:90.2,rt:[16,42.7,69.7],rh:10.2,stars:["****","****","*"],lT:[10,40,752,347],rT:[20,60,660,384],lTicks:[10,20,30,40],lLab:["10","20","30","40"],rTicks:[20,40,60],rLab:["20","40","60"]},
 {title:"MAIT",row:0,boxes:maitBoxes,dots:maitDots,tx:1195,b1:972.7,b2:1418.3,cx:1276.7,yl:988,l:1013,r:1100,hx:1036.7,ox:1076.7,lh:15,fa:1145.7,fw:84.7,foff:89,rt:[15.6,42.3,69],rh:10,stars:["****","****","**"],lT:[3,9,656,388],rT:[2.5,12.5,695,302],lTicks:[3,6,9],lLab:["3","6","9"],rTicks:[2.5,5,7.5,10,12.5],rLab:["2.5","5.0","7.5","10.0","12.5"]},
 {title:"NK_CD56bright",row:1,boxes:nkBoxes,dots:nkDots,tx:247,b1:25,b2:469,cx:320,yl:40,l:64.7,r:157.7,hx:90,ox:132.7,lh:16,fa:180,fw:90.4,foff:94.85,rt:[16.7,45,73.3],rh:11,stars:["****","****","*"],lT:[1,3,635,348],rT:[1,5,712,327],lTicks:[1,2,3],lLab:["1","2","3"],rTicks:[1,2,3,4,5],rLab:["1","2","3","4","5"]},
 {title:"CD16 Mono",row:1,boxes:cd16Boxes,dots:cd16Dots,tx:721,b1:498.3,b2:943.3,cx:801,yl:514,l:548.3,r:636.7,hx:572.3,ox:612.7,lh:15.3,fa:668.3,fw:85.8,foff:90.2,rt:[16,42.7,69.7],rh:10.2,stars:["***","****","*"],lT:[10,30,612,326],rT:[10,20,583,409],lTicks:[10,20,30],lLab:["10","20","30"],rTicks:[10,20],rLab:["10","20"]},
 {title:"CD14 Mono",row:1,boxes:cd14Boxes,dots:cd14Dots,tx:1195,b1:972.7,b2:1418.3,cx:1278.3,yl:988,l:1022,r:1108.3,hx:1045.7,ox:1085,lh:15,fa:1149.3,fw:83.4,foff:87.85,rt:[15.4,41.4,67.7],rh:10,stars:["****","***","***"],lT:[20,80,641,289],rT:[25,100,651,298],lTicks:[20,40,60,80],lLab:["20","40","60","80"],rTicks:[25,50,75,100],rLab:["25","50","75","100"]}
];
function drawBox(g,cx,half,stat,vals,fill,y,seed){
  const [lo,q1,med,q3,hi]=stat;
  ln(g,cx,y(hi),cx,y(q3),"#666",1.2); ln(g,cx,y(q1),cx,y(lo),"#666",1.2);
  g.append("rect").attr("x",cx-half).attr("width",half*2).attr("y",y(q3)).attr("height",y(q1)-y(q3)).attr("fill",fill).attr("stroke","#666").attr("stroke-width",1.1);
  ln(g,cx-half,y(med),cx+half,y(med),"#444",1.5);
  // horizontal jitter of the points: a fixed golden-ratio sequence, as geom_jitter spreads them
  g.selectAll(null).data(vals).join("circle").attr("cx",(d,i)=>cx+(((i+seed)*.618034)%1*2-1)*half*1.12).attr("cy",d=>y(d)).attr("r",1.8).attr("fill","#000");
}
dPanels.forEach(p=>{
  const R=rows[p.row], g=svg.append("g");
  const py=c=>R.base+c/3;
  const yL=d3.scalePow().exponent(.5).domain([p.lT[0],p.lT[1]]).range([py(p.lT[2]),py(p.lT[3])]);
  const yR=d3.scalePow().exponent(.5).domain([p.rT[0],p.rT[1]]).range([py(p.rT[2]),py(p.rT[3])]);
  txt(g,p.tx,R.title,p.title,{size:21.7,weight:"bold"});
  g.append("path").attr("d",`M${p.b1},${R.bb}V${R.bt+3}Q${p.b1},${R.bt} ${p.b1+3},${R.bt}H${p.b2-3}Q${p.b2},${R.bt} ${p.b2},${R.bt+3}V${R.bb}`).attr("fill","none").attr("stroke","#000").attr("stroke-width",3.4);
  txt(g,p.cx,R.cov,"COVID-19 samples",{size:16.8,weight:"bold"});
  txt(g,p.yl,R.yl,"% over total",{size:16.4,weight:"bold",rot:-90});
  const xL=d3.scaleOrdinal().domain(groupsLeft).range([p.hx,p.ox]);
  groupsLeft.forEach((c,i)=>drawBox(g,xL(c),p.lh,p.boxes[i],p.dots[i],boxFillsLeft[i],yL,i*3+1));
  ln(g,p.l,R.sb,p.l,R.ax,AX,1.6); ln(g,p.l,R.ax,p.r,R.ax,AX,1.6);
  const aL=g.append("g").attr("transform",`translate(${p.l},0)`).call(d3.axisLeft(yL).tickValues(p.lTicks).tickFormat((d,i)=>p.lLab[i]).tickSize(2.5).tickPadding(2));
  aL.select(".domain").remove(); aL.selectAll("line").attr("stroke","#777");
  aL.selectAll("text").attr("font-size",17.5).attr("fill","#5f5f5f").attr("font-family",null);
  groupsLeft.forEach((c,i)=>{
    ln(g,xL(c),R.ax,xL(c),R.ax+2.5,"#777",1);
    txt(g,xL(c)+4,R.ax+11,c,{size:17.5,rot:-30,anchor:"end",fill:"#5f5f5f"});
  });
  facets.forEach((f,fi)=>{
    const fx=p.fa+fi*p.foff;
    g.append("rect").attr("x",fx).attr("y",R.st).attr("width",p.fw).attr("height",R.sb-R.st).attr("fill","#D9D9D9");
    txt(g,fx+p.fw/2,(R.st+R.sb)/2+.5,f,{size:13.5,fill:"#333"});
    const xc=d3.scaleOrdinal().domain(groupsCovid).range(p.rt.map(d=>fx+d));
    groupsCovid.forEach((c,i)=>{
      const k=2+fi*3+i;
      drawBox(g,xc(c),p.rh,p.boxes[k],p.dots[k],boxFillsCovid[i],yR,k*2+1);
      ln(g,xc(c),R.ax,xc(c),R.ax+2.5,"#777",1);
      txt(g,xc(c)+4,R.ax+11,c,{size:17.5,rot:-30,anchor:"end",fill:"#5f5f5f"});
    });
    ln(g,fx,R.ax,fx+p.fw,R.ax,AX,1.6);
    const a=xc("Mild"),b=xc("Severe");
    g.append("path").attr("d",`M${a},${R.drop}V${R.sig}H${b}V${R.drop}`).attr("fill","none").attr("stroke","#8a8a8a").attr("stroke-width",1);
    txt(g,(a+b)/2,R.star+1,p.stars[fi],{size:10,fill:"#333"});
  });
  ln(g,p.fa,R.sb,p.fa,R.ax,AX,1.6);
  const aR=g.append("g").attr("transform",`translate(${p.fa},0)`).call(d3.axisLeft(yR).tickValues(p.rTicks).tickFormat((d,i)=>p.rLab[i]).tickSize(2.5).tickPadding(2));
  aR.select(".domain").remove(); aR.selectAll("line").attr("stroke","#777");
  aR.selectAll("text").attr("font-size",17.5).attr("fill","#5f5f5f").attr("font-family",null);
});
</script></body></html>
